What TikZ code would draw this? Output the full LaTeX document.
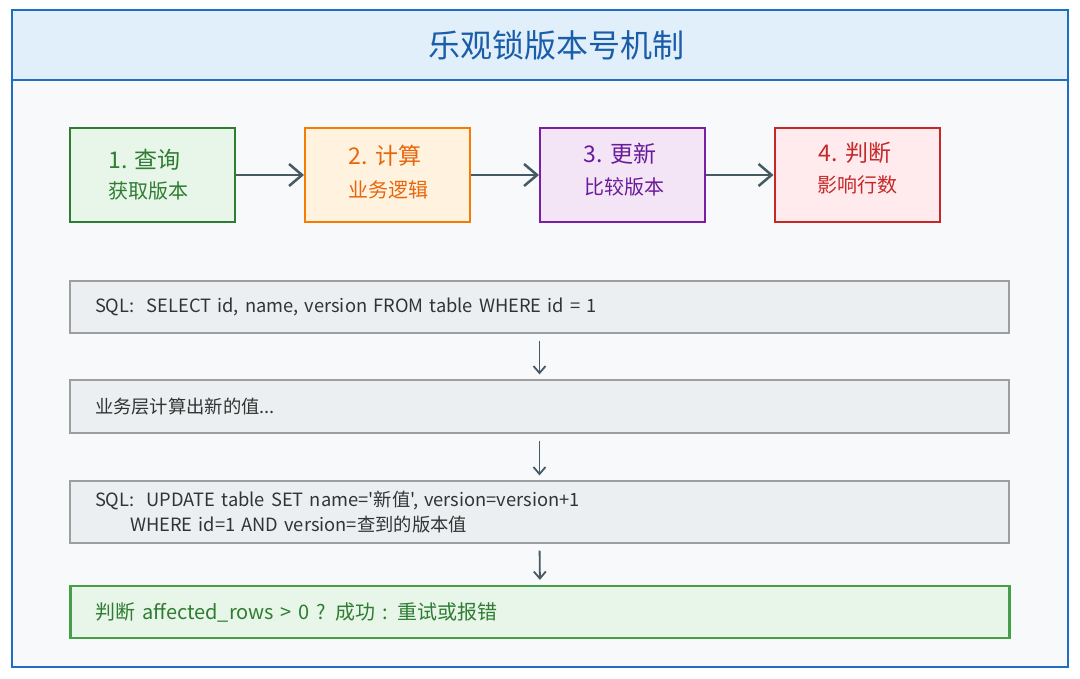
\documentclass[tikz,border=0pt]{standalone}
\usepackage{fontspec}
\newfontfamily\cjk{Noto Sans CJK SC}
\usetikzlibrary{arrows.meta}
\definecolor{frameblue}{HTML}{1E6FC4}
\definecolor{headfill}{HTML}{E1EFFB}
\definecolor{bodyfill}{HTML}{F8F9FA}
\definecolor{titleblue}{HTML}{1A5DA8}
\definecolor{gA}{HTML}{2E7D32}\definecolor{gAf}{HTML}{E8F5E9}
\definecolor{oA}{HTML}{F57C00}\definecolor{oAf}{HTML}{FFF3E0}
\definecolor{oT}{HTML}{E8650A}
\definecolor{pA}{HTML}{7B1FA2}\definecolor{pAf}{HTML}{F3E5F5}
\definecolor{pT}{HTML}{6A1B9A}
\definecolor{rA}{HTML}{C62828}\definecolor{rAf}{HTML}{FFEBEE}
\definecolor{arrowgray}{HTML}{455A64}
\definecolor{sqlfill}{HTML}{ECEFF1}
\definecolor{sqlborder}{HTML}{9E9E9E}
\definecolor{sqltext}{HTML}{333333}
\definecolor{resgreen}{HTML}{43A047}
\begin{document}
\begin{tikzpicture}[x=1pt,y=-1pt,
  stepbox/.style={draw, line width=2pt, minimum width=165pt, minimum height=94pt, inner sep=0pt},
  wide/.style={draw=sqlborder, fill=sqlfill, line width=1.2pt, minimum width=939pt, text width=889pt, inner xsep=25pt, align=left, font=\cjk\fontsize{18.3}{25}\selectfont, text=sqltext},
  harrow/.style={draw=arrowgray, line width=2.5pt, -{Straight Barb[length=13pt,width=22pt,line width=2.5pt]}},
  varrow/.style={draw=arrowgray, line width=1.8pt, -{Straight Barb[length=7pt,width=12pt,line width=1.8pt]}, shorten <=7pt, shorten >=5pt},
  big/.style={font=\cjk\fontsize{23}{28}\selectfont, inner sep=0pt},
  small/.style={font=\cjk\fontsize{20}{24}\selectfont, inner sep=0pt}]
\useasboundingbox (0,0) rectangle (1080,679);
% frame
\fill[bodyfill] (12,10) rectangle (1068,667);
\fill[headfill] (12,10) rectangle (1068,80);
\draw[frameblue, line width=2.5pt] (12,10) rectangle (1068,667);
\draw[frameblue, line width=2.5pt] (12,80) -- (1068,80);
\node[text=titleblue, font=\cjk\fontsize{32}{38}\selectfont] (title) at (556,45) {乐观锁版本号机制};
% step boxes
\node[stepbox, draw=gA, fill=gAf] (s1) at (152.5,175) {};
\node[stepbox, draw=oA, fill=oAf] (s2) at (387.5,175) {};
\node[stepbox, draw=pA, fill=pAf] (s3) at (622.5,175) {};
\node[stepbox, draw=rA, fill=rAf] (s4) at (857,175) {};
\node[big, text=gA] (t1a) at (145,160) {1. 查询};
\node[small, text=gA] (t1b) at (148,191) {获取版本};
\node[big, text=oT] (t2a) at (385,156) {2. 计算};
\node[small, text=oT] (t2b) at (388,190) {业务逻辑};
\node[big, text=pT] (t3a) at (620,154) {3. 更新};
\node[small, text=pT] (t3b) at (624,187) {比较版本};
\node[big, text=rA] (t4a) at (855,153) {4. 判断};
\node[small, text=rA] (t4b) at (857,185) {影响行数};
\draw[harrow] (s1.east) -- (s2.west);
\draw[harrow] (s2.east) -- (s3.west);
\draw[harrow] (s3.east) -- (s4.west);
% sql boxes
\node[wide, minimum height=52pt] (qa) at (539.5,307) {SQL:\ \ SELECT id, name, version FROM table WHERE id = 1};
\node[wide, minimum height=53pt] (qb) at (539.5,406.5) {业务层计算出新的值...};
\node[wide, minimum height=62pt] (qc) at (539.5,512) {SQL:\ \ UPDATE table SET name='新值', version=version+1\\\hspace*{35pt}WHERE id=1 AND version=查到的版本值};
\node[wide, draw=resgreen, fill=gAf, text=gA, line width=2.2pt, minimum height=52pt, font=\cjk\fontsize{20}{25}\selectfont] (qd) at (540,612) {判断 affected\_rows > 0 ? 成功 : 重试或报错};
\draw[varrow] (qa.south) -- (qb.north);
\draw[varrow] (qb.south) -- (qc.north);
\draw[varrow] (qc.south) -- (qd.north);
\end{tikzpicture}
\end{document}
